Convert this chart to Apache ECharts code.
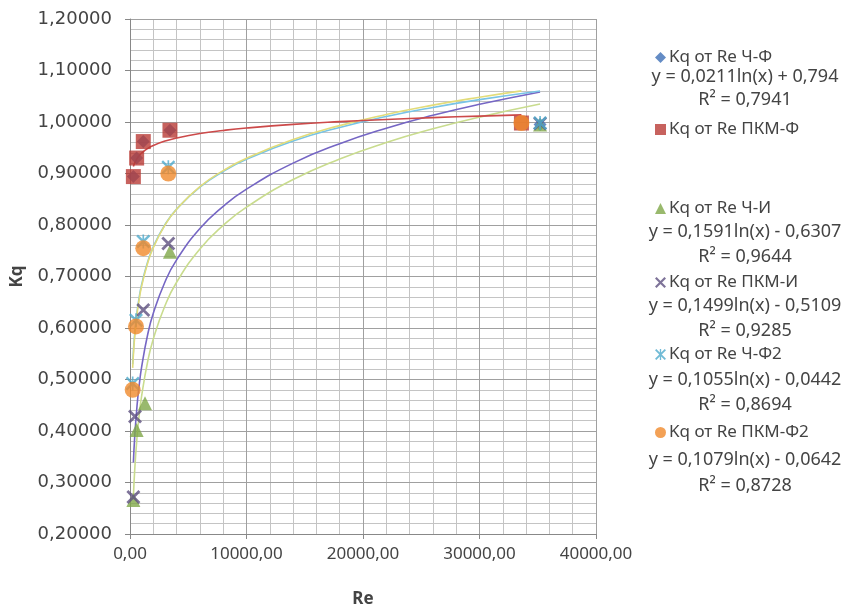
<!DOCTYPE html>
<html>
<head>
<meta charset="utf-8">
<script src="https://cdn.jsdelivr.net/npm/echarts@6/dist/echarts.min.js"></script>
<style>
  html, body { margin: 0; padding: 0; background: #fff; }
  #chart { width: 853px; height: 606px; }
</style>
</head>
<body>
<div id="chart"></div>
<script>
// series names
var names = ['Kq от Re Ч-Ф', 'Kq от Re ПКМ-Ф', 'Kq от Re Ч-И', 'Kq от Re ПКМ-И', 'Kq от Re Ч-Ф2', 'Kq от Re ПКМ-Ф2'];

// measured points [Re, Kq]
var chF    = [[290, 0.894], [570, 0.930], [1140, 0.962], [3430, 0.984], [35200, 0.995]];
var pkmF   = [[290, 0.894], [570, 0.930], [1140, 0.962], [3430, 0.984], [33600, 0.998]];
var chI    = [[290, 0.266], [570, 0.402], [1290, 0.454], [3430, 0.748], [35200, 0.995]];
var pkmI   = [[290, 0.272], [430, 0.428], [1140, 0.635], [3290, 0.764], [35200, 0.997]];
var chF2   = [[230, 0.492], [515, 0.615], [1140, 0.768], [3290, 0.912], [35200, 0.998]];
var pkmF2  = [[230, 0.480], [515, 0.603], [1140, 0.755], [3290, 0.900], [33600, 0.998]];

// trend lines (log fits shown in the legend)
var trendPkmF  = [[290,0.9136],[400,0.9204],[600,0.9290],[800,0.9350],[1000,0.9398],[1500,0.9483],[2000,0.9544],[3000,0.9629],[4000,0.9690],[6000,0.9776],[8000,0.9836],[10000,0.9883],[14000,0.9954],[18000,1.0007],[22000,1.0050],[26000,1.0085],[30000,1.0115],[33600,1.0139]];
var trendChI   = [[290,0.2714],[400,0.3226],[600,0.3871],[800,0.4328],[1000,0.4683],[1500,0.5328],[2000,0.5786],[3000,0.6431],[4000,0.6889],[6000,0.7534],[8000,0.7992],[10000,0.8347],[14000,0.8882],[18000,0.9282],[22000,0.9601],[26000,0.9867],[30000,1.0095],[35200,1.0349]];
var trendPkmI  = [[290,0.3390],[400,0.3872],[600,0.4480],[800,0.4911],[1000,0.5246],[1500,0.5854],[2000,0.6285],[3000,0.6893],[4000,0.7324],[6000,0.7932],[8000,0.8363],[10000,0.8697],[14000,0.9202],[18000,0.9578],[22000,0.9879],[26000,1.0130],[30000,1.0344],[35200,1.0584]];
var trendChF2  = [[230,0.5295],[290,0.5540],[400,0.5879],[600,0.6307],[800,0.6610],[1000,0.6846],[1500,0.7273],[2000,0.7577],[3000,0.8005],[4000,0.8308],[6000,0.8736],[8000,0.9040],[10000,0.9275],[14000,0.9630],[18000,0.9895],[22000,1.0107],[26000,1.0283],[30000,1.0434],[35200,1.0603]];
var trendPkmF2 = [[230,0.5226],[290,0.5476],[400,0.5823],[600,0.6260],[800,0.6571],[1000,0.6812],[1500,0.7249],[2000,0.7559],[3000,0.7997],[4000,0.8307],[6000,0.8745],[8000,0.9055],[10000,0.9296],[14000,0.9659],[18000,0.9930],[22000,1.0147],[26000,1.0327],[30000,1.0481],[33600,1.0604]];

// fine Kq grid values (between the 0.1 lines)
var yMinor = [0.22, 0.24, 0.26, 0.28, 0.32, 0.34, 0.36, 0.38, 0.42, 0.44, 0.46, 0.48,
              0.52, 0.54, 0.56, 0.58, 0.62, 0.64, 0.66, 0.68, 0.72, 0.74, 0.76, 0.78,
              0.82, 0.84, 0.86, 0.88, 0.92, 0.94, 0.96, 0.98, 1.02, 1.04, 1.06, 1.08,
              1.12, 1.14, 1.16, 1.18];

// legend text lines
var eqLines = [
  ['y = 0,0211ln(x) + 0,794', 'R² = 0,7941'],
  ['y = 0,1591ln(x) - 0,6307', 'R² = 0,9644'],
  ['y = 0,1499ln(x) - 0,5109', 'R² = 0,9285'],
  ['y = 0,1055ln(x) - 0,0442', 'R² = 0,8694'],
  ['y = 0,1079ln(x) - 0,0642', 'R² = 0,8728']
];

var xMark = 'path://M0,1.4 L1.4,0 L10,8.6 L8.6,10 Z M8.6,0 L10,1.4 L1.4,10 L0,8.6 Z';
var starMark = 'path://M0,1.2 L1.2,0 L10,8.8 L8.8,10 Z M8.8,0 L10,1.2 L1.2,10 L0,8.8 Z M4.4,0 L5.6,0 L5.6,10 L4.4,10 Z';

var txt = '#444';
var font = 'Noto Sans';
var majorGrid = '#a0a0a0', minorGrid = '#c4c4c4';

var myChart = echarts.init(document.getElementById('chart'));

function legendAt(name, top) {
  return {
    data: [name], left: 650, top: top, orient: 'vertical',
    itemWidth: 11, itemHeight: 11, itemGap: 0,
    textStyle: { fontFamily: font, fontSize: 17, color: txt, padding: [0, 0, 0, -2] }
  };
}

var legendTops = [44, 116, 195, 269, 341, 419];
var eqTops = [[77, 100], [232, 257], [306, 331], [380, 405], [460, 486]];

var graphics = [];
eqLines.forEach(function (pair, i) {
  pair.forEach(function (s, j) {
    graphics.push({
      type: 'text', x: 745, y: eqTops[i][j],
      style: { text: s, fontFamily: font, fontSize: 18, fill: txt, textAlign: 'center', textVerticalAlign: 'middle' }
    });
  });
});

function trend(data, color) {
  return {
    type: 'line', data: data, smooth: true, showSymbol: false, silent: true,
    lineStyle: { color: color, width: 1.6 }, z: 3
  };
}

var option = {
  animation: false,
  grid: { left: 130, right: 257, top: 19, bottom: 72, containLabel: false, outerBoundsMode: 'none' },
  legend: legendTops.map(function (t, i) { return legendAt(names[i], t); }),
  graphic: graphics,
  xAxis: [{
    type: 'value', min: 0, max: 40000, interval: 10000,
    name: 'Re', nameLocation: 'middle', nameGap: 57,
    nameTextStyle: { fontFamily: font, fontSize: 17, fontWeight: 'bold', color: txt },
    axisLine: { show: true, lineStyle: { color: '#888' } },
    axisTick: { show: true, length: 5, lineStyle: { color: '#888' } },
    axisLabel: {
      fontFamily: font, fontSize: 17, color: txt, margin: 12,
      formatter: function (v) { return v.toFixed(2).replace('.', ','); }
    },
    splitLine: { show: true, lineStyle: { color: majorGrid, width: 1 } },
    z: 2
  }, {
    // fine vertical grid every 2000
    type: 'value', min: 0, max: 40000, interval: 2000,
    axisLine: { show: false }, axisTick: { show: false }, axisLabel: { show: false },
    splitLine: { show: true, lineStyle: { color: minorGrid, width: 1 } }, z: 0
  }],
  yAxis: {
    type: 'value', min: 0.2, max: 1.2, interval: 0.1,
    name: 'Kq', nameLocation: 'middle', nameGap: 104, nameRotate: 90,
    nameTextStyle: { fontFamily: font, fontSize: 17, fontWeight: 'bold', color: txt },
    axisLine: { show: true, lineStyle: { color: '#888' } },
    axisTick: { show: true, length: 5, lineStyle: { color: '#888' } },
    axisLabel: {
      fontFamily: 'DejaVu Sans', fontSize: 18, color: txt, margin: 18,
      formatter: function (v) { return v.toFixed(5).replace('.', ','); }
    },
    splitLine: { show: true, lineStyle: { color: majorGrid, width: 1 } },
    z: 2
  },
  series: [
    {
      // carries the fine horizontal grid lines
      type: 'line', data: [], silent: true, z: 0,
      markLine: {
        silent: true, symbol: 'none', label: { show: false }, z: 0,
        lineStyle: { color: minorGrid, width: 1, type: 'solid' },
        data: yMinor.map(function (v) { return { yAxis: v }; })
      }
    },
    trend(trendChI, '#c9dc8e'),
    trend(trendPkmI, '#7566c4'),
    trend(trendChF2, '#78c4e6'),
    trend(trendPkmF2, '#e2dc7a'),
    trend(trendPkmF, '#cc4a4a'),
    { name: names[0], type: 'scatter', data: chF, symbol: 'diamond', symbolSize: 13,
      itemStyle: { color: '#3d6fb6' }, z: 4 },
    { name: names[1], type: 'scatter', data: pkmF, symbol: 'rect', symbolSize: 15,
      itemStyle: { color: '#b93b36' }, z: 4 },
    { name: names[2], type: 'scatter', data: chI, symbol: 'triangle', symbolSize: 14,
      itemStyle: { color: '#7fa848' }, z: 4 },
    { name: names[3], type: 'scatter', data: pkmI, symbol: xMark, symbolSize: 14,
      itemStyle: { color: '#5e5080' }, z: 4 },
    { name: names[4], type: 'scatter', data: chF2, symbol: starMark, symbolSize: 14,
      itemStyle: { color: '#4eaacc' }, z: 4 },
    { name: names[5], type: 'scatter', data: pkmF2, symbol: 'circle', symbolSize: 16,
      itemStyle: { color: '#f08a2c' }, z: 4 }
  ]
};
myChart.setOption(option);
</script>
</body>
</html>
